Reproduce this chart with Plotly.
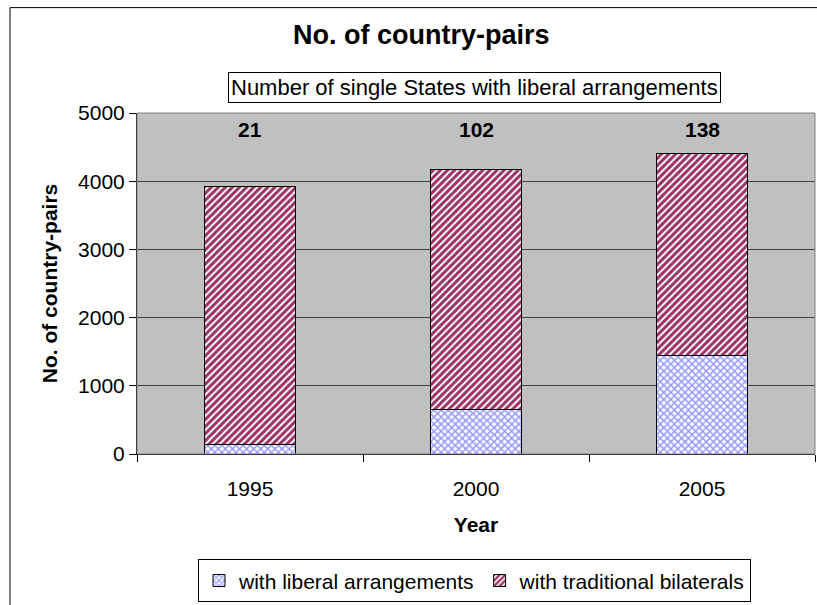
import plotly.graph_objects as go

years = ["1995", "2000", "2005"]
liberal = [140, 650, 1440]
traditional = [3780, 3520, 2960]
single_states = ["21", "102", "138"]

W, H = 817, 605
ML, MR, MT, MB = 137, 2, 113, 149
PW = W - ML - MR
PH = H - MT - MB

def px_x(p):
    return (p - ML) / PW

def px_y(p):
    return (H - MB - p) / PH

font = "Arial, Liberation Sans, sans-serif"
FS = 21

fig = go.Figure()
fig.add_trace(go.Bar(
    x=years, y=liberal, name="with liberal arrangements",
    marker=dict(color="white", line=dict(color="black", width=1),
                pattern=dict(shape="x", fgcolor="#9999ff", bgcolor="white", size=5,
                             solidity=0.5, fgopacity=1)),
))
fig.add_trace(go.Bar(
    x=years, y=traditional, name="with traditional bilaterals",
    marker=dict(color="white", line=dict(color="black", width=1),
                pattern=dict(shape="/", fgcolor="#993366", bgcolor="white", size=5,
                             solidity=0.6, fgopacity=1)),
))

for i, s in enumerate(single_states):
    fig.add_annotation(x=i, y=4760, text="<b>%s</b>" % s, showarrow=False,
                       font=dict(size=FS, color="black", family=font))

# title
fig.add_annotation(xref="paper", yref="paper", x=px_x(421), y=px_y(35),
                   xanchor="center", yanchor="middle",
                   text="<b>No. of country-pairs</b>", showarrow=False,
                   font=dict(size=27, color="black", family=font))
# boxed subtitle
fig.add_annotation(xref="paper", yref="paper", x=px_x(474.5), y=px_y(87.5),
                   xanchor="center", yanchor="middle",
                   text="Number of single States with liberal arrangements", showarrow=False,
                   font=dict(size=22, color="black", family=font),
                   bordercolor="black", borderwidth=1, borderpad=2, bgcolor="white")

# outer chart border
fig.add_shape(type="rect", xref="paper", yref="paper",
              x0=px_x(10), x1=px_x(830), y0=px_y(620), y1=px_y(7),
              line=dict(color="black", width=1), layer="below")
# plot area border (gray)
fig.add_shape(type="rect", xref="paper", yref="paper", x0=0, x1=1, y0=0, y1=1,
              line=dict(color="#808080", width=1), layer="above")

fig.update_layout(
    width=W, height=H,
    margin=dict(l=ML, r=MR, t=MT, b=MB),
    barmode="stack", bargap=0.6,
    paper_bgcolor="white", plot_bgcolor="#c0c0c0",
    font=dict(family=font, size=FS, color="black"),
    showlegend=True,
    legend=dict(orientation="h", xanchor="center", yanchor="top",
                x=px_x(474.5), y=px_y(562), traceorder="normal",
                bordercolor="black", borderwidth=1, bgcolor="white",
                font=dict(size=FS, family=font), itemwidth=30,
                tracegroupgap=0),
    xaxis=dict(type="category", range=[-0.5, 2.5], ticks="outside", tickson="boundaries", ticklen=7,
               tickcolor="black", showline=True, linecolor="black", linewidth=1,
               showgrid=False, ticklabelstandoff=16,
               title=dict(text="<b>Year</b>", font=dict(size=FS, family=font), standoff=18),
               tickfont=dict(size=FS, family=font)),
    yaxis=dict(range=[0, 5000], dtick=1000, ticks="outside", ticklen=7, tickcolor="black",
               showline=True, linecolor="black", linewidth=1,
               showgrid=True, gridcolor="#404040", gridwidth=1, zeroline=False,
               title=dict(text="<b>No. of country-pairs</b>", font=dict(size=FS, family=font), standoff=14),
               tickfont=dict(size=FS, family=font)),
)

fig.write_html("out.html")
